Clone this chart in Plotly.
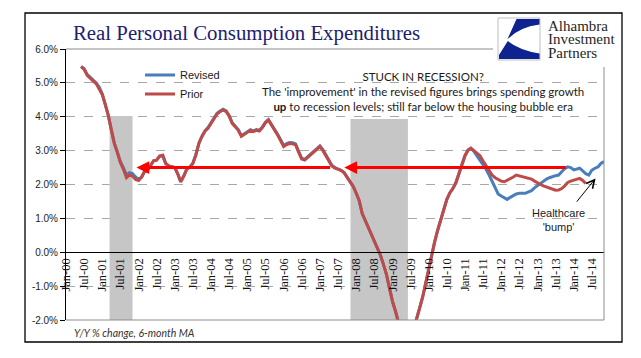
import pandas as pd
import plotly.graph_objects as go

# ---------------- data ----------------
prior_start = "2000-06-01"
prior_values = [
    5.48, 5.40, 5.22, 5.12, 5.05, 4.97, 4.82, 4.65, 4.35, 4.05,
    3.62, 3.22, 2.95, 2.65, 2.45, 2.20, 2.28, 2.25, 2.15, 2.12,
    2.22, 2.38, 2.42, 2.55, 2.70, 2.72, 2.84, 2.86, 2.62, 2.55,
    2.52, 2.50, 2.30, 2.08, 2.25, 2.45, 2.52, 2.62, 2.88, 3.22,
    3.42, 3.58, 3.66, 3.80, 3.98, 4.08, 4.15, 4.20, 4.15, 4.02,
    3.80, 3.68, 3.60, 3.42, 3.48, 3.52, 3.60, 3.56, 3.60, 3.58,
    3.68, 3.82, 3.90, 3.75, 3.62, 3.46, 3.30, 3.12, 3.18, 3.21,
    3.20, 3.17, 2.95, 2.75, 2.72, 2.80, 2.87, 2.95, 3.05, 3.12,
    3.00, 2.85, 2.70, 2.55, 2.48, 2.45, 2.42, 2.35, 2.22, 2.08,
    1.95, 1.75, 1.52, 1.15, 0.95, 0.75, 0.55, 0.35, 0.15, -0.08,
    -0.35, -0.65, -1.05, -1.45, -1.75, -2.10, -2.40, -2.60, -2.70, -2.60,
    -2.25, -1.95, -1.65, -1.32, -0.90, -0.50, -0.05, 0.30, 0.65, 0.95,
    1.25, 1.55, 1.75, 1.88, 2.05, 2.30, 2.60, 2.85, 3.02, 3.07,
    3.00, 2.92, 2.85, 2.70, 2.55, 2.40, 2.28, 2.20, 2.14, 2.10,
    2.08, 2.12, 2.18, 2.22, 2.28, 2.26, 2.24, 2.22, 2.20, 2.16,
    2.10, 2.04, 2.00, 1.96, 1.93, 1.90, 1.86, 1.83, 1.84, 1.88,
    1.96, 2.06, 2.10, 2.13, 2.15, 2.18, 2.12, 2.03,
]

revised_start = "2000-06-01"
revised_values = [
    5.48, 5.42, 5.25, 5.15, 5.08, 5.00, 4.87, 4.67, 4.38, 4.05,
    3.62, 3.22, 2.95, 2.68, 2.50, 2.28, 2.35, 2.32, 2.22, 2.15,
    2.22, 2.38, 2.42, 2.55, 2.70, 2.72, 2.84, 2.86, 2.62, 2.55,
    2.52, 2.50, 2.30, 2.08, 2.25, 2.45, 2.52, 2.62, 2.88, 3.22,
    3.42, 3.58, 3.68, 3.82, 4.00, 4.10, 4.17, 4.22, 4.17, 4.04,
    3.82, 3.70, 3.62, 3.44, 3.50, 3.54, 3.62, 3.58, 3.62, 3.60,
    3.70, 3.84, 3.92, 3.77, 3.64, 3.48, 3.32, 3.15, 3.21, 3.24,
    3.23, 3.20, 2.98, 2.78, 2.74, 2.82, 2.89, 2.97, 3.07, 3.14,
    3.02, 2.87, 2.72, 2.57, 2.50, 2.46, 2.42, 2.35, 2.22, 2.08,
    1.95, 1.75, 1.52, 1.15, 0.95, 0.75, 0.55, 0.35, 0.15, -0.08,
    -0.35, -0.65, -1.05, -1.45, -1.75, -2.10, -2.40, -2.60, -2.70, -2.60,
    -2.25, -1.95, -1.65, -1.32, -0.90, -0.50, -0.05, 0.30, 0.65, 0.95,
    1.25, 1.55, 1.75, 1.88, 2.05, 2.30, 2.60, 2.85, 3.02, 3.07,
    2.98, 2.85, 2.72, 2.58, 2.45, 2.28, 2.10, 1.90, 1.72, 1.66,
    1.60, 1.56, 1.62, 1.68, 1.72, 1.74, 1.74, 1.74, 1.78, 1.82,
    1.90, 1.97, 2.05, 2.10, 2.16, 2.20, 2.24, 2.26, 2.28, 2.38,
    2.47, 2.52, 2.50, 2.43, 2.46, 2.48, 2.40, 2.32, 2.28, 2.42,
    2.48, 2.52, 2.62, 2.68,
]

tick_dates = pd.date_range("2000-01-01", "2014-07-01", freq="6MS")
tick_labels = [d.strftime("%b-%y") for d in tick_dates]

y_tick_values = [-2, -1, 0, 1, 2, 3, 4, 5, 6]
y_tick_labels = ["-2.0%", "-1.0%", "0.0%", "1.0%", "2.0%", "3.0%", "4.0%", "5.0%", "6.0%"]

# recession periods (start, end, shading top %)
recession_start = ["2001-03-15", "2007-11-05"]
recession_end = ["2001-11-01", "2009-06-05"]
recession_top = [4.02, 3.93]

x_range = ["2000-01-01", "2014-11-01"]

prior_dates = pd.date_range(prior_start, periods=len(prior_values), freq="MS")
revised_dates = pd.date_range(revised_start, periods=len(revised_values), freq="MS")

# ---------------- layout helpers (reference pixel -> paper) ----------------
OFF = 8                      # page body margin
W, H = 641 - OFF, 358 - OFF
L, R, T, B = 66, 604, 49, 320   # plot area in page pixels


def px_x(px):
    return (px - L) / (R - L)


def px_y(py):
    return (B - py) / (B - T)


fig = go.Figure()
fig.add_trace(go.Scatter(x=revised_dates, y=revised_values, mode="lines", name="Revised",
                         legend="legend", line=dict(color="#4A7EBB", width=3)))
fig.add_trace(go.Scatter(x=prior_dates, y=prior_values, mode="lines", name="Prior",
                         legend="legend2", line=dict(color="#BE4B48", width=3)))

shapes = []
for s, e, top in zip(recession_start, recession_end, recession_top):
    shapes.append(dict(type="rect", xref="x", yref="y", x0=s, x1=e, y0=-2, y1=top,
                       fillcolor="#C6C6C6", line=dict(width=0), layer="between"))

# plot-area border (top, right, bottom) in gray
border = "#8C8C8C"
shapes += [
    dict(type="line", xref="paper", yref="paper", x0=0, x1=1, y0=1, y1=1,
         line=dict(color=border, width=1), layer="above"),
    dict(type="line", xref="paper", yref="paper", x0=1, x1=1, y0=0, y1=1,
         line=dict(color=border, width=1), layer="above"),
    dict(type="line", xref="paper", yref="paper", x0=0, x1=1, y0=0, y1=0,
         line=dict(color=border, width=1), layer="above"),
]
# outer frame
shapes.append(dict(type="rect", xref="paper", yref="paper",
                   x0=px_x(25), x1=px_x(622), y0=px_y(342), y1=px_y(13),
                   line=dict(color="#000000", width=1.3), fillcolor="rgba(0,0,0,0)", layer="above"))
# logo background cover
shapes.append(dict(type="rect", xref="paper", yref="paper",
                   x0=px_x(493), x1=px_x(612), y0=px_y(67), y1=px_y(15),
                   line=dict(width=0), fillcolor="white", layer="above"))
# logo box
shapes.append(dict(type="rect", xref="paper", yref="paper",
                   x0=px_x(498), x1=px_x(540), y0=px_y(60), y1=px_y(18),
                   line=dict(color="#BDBDBD", width=1), fillcolor="white", layer="above"))


def pth(cmds):
    out = []
    for c in cmds:
        if isinstance(c, str):
            out.append(c)
        else:
            out.append(f"{px_x(c[0]):.5f},{px_y(c[1]):.5f}")
    return " ".join(out)


navy = "#0E2290"
upper = pth(["M", (516.5, 19), "L", (539.5, 19), "L", (539.5, 24.5), "Q", (519, 27), (507.3, 39.5), "Z"])
lower = pth(["M", (507.8, 41), "Q", (519, 50), (539.5, 53.5), "L", (539.5, 59), "L", (499, 59), "L", (499, 55), "Z"])
for p in (upper, lower):
    shapes.append(dict(type="path", xref="paper", yref="paper", path=p,
                       fillcolor=navy, line=dict(width=0), layer="above"))

logo_text = "<br>".join(f"<span style='font-size:15px'>{w}</span>"
                        for w in ["Alhambra", "Investment", "Partners"])

annotations = [
    dict(xref="paper", yref="paper", x=px_x(71), y=px_y(33), xanchor="left", yanchor="middle",
         text="Real Personal Consumption Expenditures", showarrow=False,
         font=dict(family="Liberation Serif", size=20.8, color="#1C2170")),
    dict(xref="paper", yref="paper", x=px_x(423), y=px_y(91), xanchor="center", yanchor="middle",
         text="STUCK IN RECESSION?<br>The 'improvement' in the revised figures brings spending growth"
              "<br><b>up</b> to recession levels; still far below the housing bubble era",
         showarrow=False, align="center",
         font=dict(family="Lato", size=11.5, color="#1A1A1A")),
    dict(xref="paper", yref="paper", x=px_x(558), y=px_y(219.5), xanchor="center", yanchor="middle",
         text="Healthcare<br>'bump'", showarrow=False, align="center",
         font=dict(family="Liberation Sans", size=11, color="#1A1A1A")),
    dict(xref="paper", yref="paper", x=px_x(72), y=px_y(333), xanchor="left", yanchor="middle",
         text="<i>Y/Y % change, 6-month MA</i>", showarrow=False,
         font=dict(family="Lato", size=10.5, color="#333333")),
    dict(xref="paper", yref="paper", x=px_x(545.5), y=px_y(39), xanchor="left", yanchor="middle",
         text=logo_text, showarrow=False, align="left",
         font=dict(family="Liberation Serif", size=10.2, color="#262626")),
]

# red arrows (tail -> tip) at 2.5%
arrow_tips = ["2001-12-11", "2007-09-04"]
arrow_tails = ["2007-04-29", "2013-10-28"]
for tip, tail in zip(arrow_tips, arrow_tails):
    annotations.append(dict(xref="x", yref="y", axref="x", ayref="y", x=tip, y=2.5, ax=tail, ay=2.5,
                            text="", showarrow=True, arrowhead=2, arrowsize=0.85, arrowwidth=3,
                            arrowcolor="#FF0000", standoff=0, startstandoff=0))
# black annotation arrow
annotations.append(dict(xref="x", yref="y", axref="x", ayref="y", x="2014-08-08", y=2.18,
                        ax="2014-01-19", ay=1.45, text="", showarrow=True, arrowhead=5,
                        arrowsize=1.6, arrowwidth=1, arrowcolor="#000000",
                        standoff=0, startstandoff=0))

legend_style = dict(xanchor="left", yanchor="middle", bgcolor="rgba(0,0,0,0)", borderwidth=0,
                    font=dict(family="Liberation Sans", size=11, color="#1A1A1A"))

fig.update_layout(
    width=W, height=H,
    margin=dict(l=L - OFF, r=W - (R - OFF), t=T - OFF, b=H - (B - OFF)),
    paper_bgcolor="white", plot_bgcolor="white",
    shapes=shapes, annotations=annotations,
    showlegend=True,
    legend=dict(x=px_x(140), y=px_y(75), **legend_style),
    legend2=dict(x=px_x(140), y=px_y(94), **legend_style),
    xaxis=dict(type="date", range=x_range, anchor="free", position=0.25,
               showline=True, linecolor="#000000", linewidth=1,
               showgrid=False, zeroline=False, ticks="",
               tickvals=tick_dates, ticktext=tick_labels, tickangle=-90,
               tickfont=dict(family="Liberation Serif", size=12.5, color="#111111")),
    xaxis2=dict(type="date", range=x_range, overlaying="x", anchor="free",
                position=0.25 + 3 / (B - T), showline=False, showgrid=False, zeroline=False,
                ticks="outside", ticklen=6, tickcolor="#000000", tickwidth=1,
                tickvals=tick_dates + pd.Timedelta(days=65), showticklabels=False),
    yaxis=dict(range=[-2, 6], tickvals=y_tick_values, ticktext=y_tick_labels,
               showline=True, linecolor="#000000", linewidth=1,
               ticks="outside", ticklen=5, tickcolor="#000000",
               showgrid=True, gridcolor="#A8A8A8", griddash="dash", gridwidth=1,
               zeroline=False,
               tickfont=dict(family="Liberation Sans", size=10, color="#222222")),
)

fig.write_html("out.html")
